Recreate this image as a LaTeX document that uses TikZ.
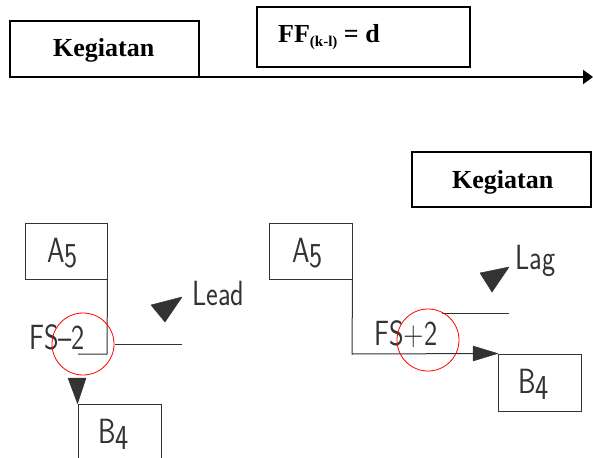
\documentclass[tikz,border=0pt]{standalone}
\usepackage{fontspec}
\setmainfont{Liberation Serif}
\usetikzlibrary{arrows.meta}
\definecolor{ink}{HTML}{333333}
\tikzset{
  x=1pt, y=-1pt,
  topbox/.style={draw=black, line width=2.2pt, rectangle, inner sep=0pt},
  topline/.style={draw=black, line width=2pt},
  cadbox/.style={draw=ink, line width=1pt, rectangle, inner sep=0pt},
  cadline/.style={draw=ink, line width=1pt},
  ring/.style={draw=red, line width=0.8pt, circle, inner sep=0pt, minimum size=62pt},
  head/.style={fill=ink, draw=ink, line width=0.5pt, line join=round},
  boldlbl/.style={inner sep=0pt, anchor=base west, font=\fontsize{26}{26}\selectfont\bfseries},
  cadlbl/.style={inner sep=0pt, anchor=base west, text=ink, font=\fontsize{35}{35}\selectfont\sffamily},
}
\newcommand{\cad}[1]{\scalebox{0.8}[1]{#1}}
\begin{document}
\begin{tikzpicture}
\useasboundingbox (0,0) rectangle (593,457);
% top part
\node[topbox, minimum width=189pt, minimum height=56pt] (k1) at (104.5,49) {};
\node[boldlbl] (k1t) at (53,57) {Kegiatan};
\node[topbox, minimum width=213pt, minimum height=60pt] (ff) at (363.5,37) {};
\node[boldlbl] (fft) at (278,43) {FF{\fontsize{15}{15}\selectfont\raisebox{-4pt}{(k-l)}} = d};
\coordinate (ls) at (175,77);
\coordinate (le) at (593,77);
\draw[topline, -{Triangle[length=10pt,width=14pt]}] (ls) -- (le);
\node[topbox, minimum width=179pt, minimum height=55pt] (k2) at (501.5,179.5) {};
\node[boldlbl] (k2t) at (452,188) {Kegiatan};

% bottom left
\node[cadbox, minimum width=82pt, minimum height=56pt] (a5l) at (66,251) {};
\node[cadlbl] (a5lt) at (47,262) {\cad{A\raisebox{-5pt}{5}}};
\coordinate (ul) at (78,354);
\draw[cadline] (a5l.south east) -- (107,354) -- (ul);
\node[cadlbl] (fsl) at (29,349) {\cad{FS–2}};
\coordinate (hl1) at (115,344);
\coordinate (hl2) at (182,344);
\draw[cadline] (hl1) -- (hl2);
\node[ring] (cl) at (83,344) {};
\node[cadbox, minimum width=83pt, minimum height=70pt] (b4l) at (119.5,439) {};
\node[cadlbl] (b4lt) at (98,443) {\cad{B\raisebox{-6pt}{4}}};
\draw[head] (68,378) -- (86,378) -- (b4l.north west) -- cycle;
\draw[head] (151,305) -- (182,297) -- (165,322) -- cycle;
\node[cadlbl] (lead) at (192,305) {\cad{Lead}};

% bottom right
\node[cadbox, minimum width=83pt, minimum height=56pt] (a5r) at (310.5,251) {};
\node[cadlbl] (a5rt) at (292,262) {\cad{A\raisebox{-5pt}{5}}};
\node[cadbox, minimum width=83pt, minimum height=57pt] (b4r) at (539.5,382.5) {};
\node[cadlbl] (b4rt) at (518,393) {\cad{B\raisebox{-6pt}{4}}};
\coordinate (cr) at (352,354);
\draw[cadline] (a5r.south east) -- (cr) -- (b4r.north west);
\draw[head] (473,346) -- (473,361) -- (b4r.north west) -- cycle;
\coordinate (hr1) at (442,313);
\coordinate (hr2) at (509,313);
\draw[cadline] (hr1) -- (hr2);
\node[cadlbl] (fsr) at (374,345) {\cad{FS+2}};
\node[ring] (crr) at (428,340) {};
\draw[head] (480,273) -- (509,267) -- (492,292) -- cycle;
\node[cadlbl] (lag) at (515,269) {\cad{Lag}};
\end{tikzpicture}
\end{document}
